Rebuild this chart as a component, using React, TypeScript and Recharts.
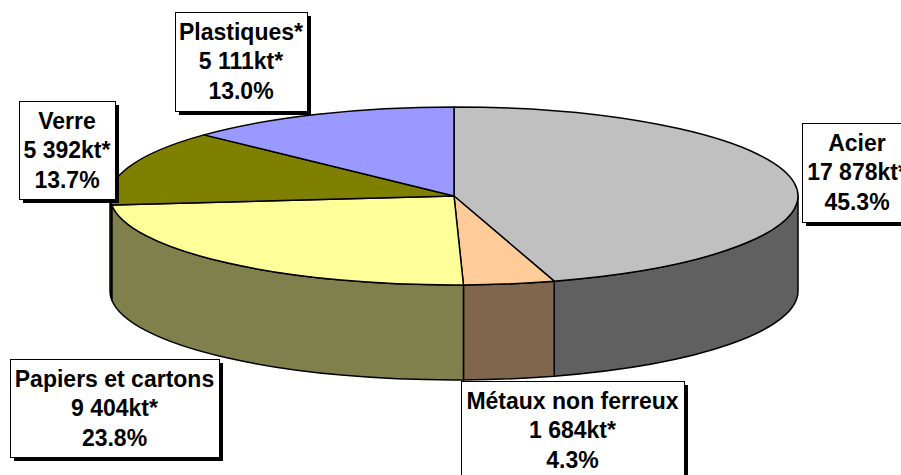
import React from "react";
import { Cell, Pie, PieChart } from "recharts";

const categories = ["Acier", "Métaux non ferreux", "Papiers et cartons", "Verre", "Plastiques*"];
const tonnages = [17878, 1684, 9404, 5392, 5111];
const tonnageLabels = ["17 878kt*", "1 684kt*", "9 404kt*", "5 392kt*", "5 111kt*"];
const shareLabels = ["45.3%", "4.3%", "23.8%", "13.7%", "13.0%"];

const topColors = ["#C0C0C0", "#FFCC99", "#FFFF99", "#808000", "#9999FF"];
const wallColors = ["#606060", "#80664D", "#80804D", "#404000", "#4D4D80"];

// label boxes: x, y, width, height
const boxes = [
  [802, 123, 110, 99],
  [461, 381, 223, 97],
  [10, 359, 209, 98],
  [19, 101, 96, 98],
  [175, 12, 132, 99],
];

const CX = 454;
const CY = 196;
const RX = 344;
const RY = 89;
const DEPTH = 95;

const tableData = categories.map((name, i) => ({ name, value: tonnages[i] }));

const pt = (a: number) => {
  const rad = (a * Math.PI) / 180;
  return [CX + RX * Math.cos(rad), CY - RY * Math.sin(rad)];
};

function TopSlice(props: any) {
  const { startAngle, endAngle, fill } = props;
  const [x1, y1] = pt(startAngle);
  const [x2, y2] = pt(endAngle);
  const large = startAngle - endAngle > 180 ? 1 : 0;
  const d = `M${CX},${CY} L${x1},${y1} A${RX},${RY} 0 ${large} 1 ${x2},${y2} Z`;
  return <path d={d} fill={fill} stroke="#000" strokeWidth={1.5} strokeLinejoin="round" />;
}

function WallSlice(props: any) {
  const { startAngle, endAngle, fill } = props;
  // only the front half of the disc shows a wall
  const a1 = Math.min(startAngle, 0);
  const a2 = Math.max(endAngle, -180);
  if (a1 <= a2) return <g />;
  const [x1, y1] = pt(a1);
  const [x2, y2] = pt(a2);
  const d = `M${x1},${y1} A${RX},${RY} 0 0 1 ${x2},${y2} L${x2},${y2 + DEPTH} A${RX},${RY} 0 0 0 ${x1},${y1 + DEPTH} Z`;
  return <path d={d} fill={fill} stroke="#000" strokeWidth={1.5} strokeLinejoin="round" />;
}

function BoxLabel(props: any) {
  const { index } = props;
  const [x, y, w, h] = boxes[index];
  const mid = x + w / 2;
  const lines = [categories[index], tonnageLabels[index], shareLabels[index]];
  return (
    <g>
      <rect x={x + 4} y={y + 4} width={w} height={h} fill="#000" />
      <rect x={x + 0.5} y={y + 0.5} width={w} height={h} fill="#fff" stroke="#000" strokeWidth={1} />
      {lines.map((line, i) => (
        <text
          key={line}
          x={mid}
          y={y + 28 + i * 29.3}
          textAnchor="middle"
          fill="#000"
          fontFamily="'Liberation Sans', Arial, sans-serif"
          fontWeight="bold"
          fontSize={23}
        >
          {line}
        </text>
      ))}
    </g>
  );
}

export default function App() {
  return (
    <div style={{ position: "absolute", left: 0, top: 0, width: 901, height: 475, background: "#fff" }}>
      <PieChart width={901} height={475} margin={{ top: 0, right: 0, bottom: 0, left: 0 }}>
        <Pie
          data={tableData}
          dataKey="value"
          cx={CX}
          cy={CY}
          outerRadius={RX}
          startAngle={90}
          endAngle={-270}
          stroke="none"
          shape={WallSlice}
          isAnimationActive={false}
        >
          {wallColors.map((c) => (
            <Cell key={c} fill={c} />
          ))}
        </Pie>
        <Pie
          data={tableData}
          dataKey="value"
          cx={CX}
          cy={CY}
          outerRadius={RX}
          startAngle={90}
          endAngle={-270}
          stroke="none"
          shape={TopSlice}
          label={BoxLabel}
          labelLine={false}
          isAnimationActive={false}
        >
          {topColors.map((c) => (
            <Cell key={c} fill={c} />
          ))}
        </Pie>
      </PieChart>
    </div>
  );
}
